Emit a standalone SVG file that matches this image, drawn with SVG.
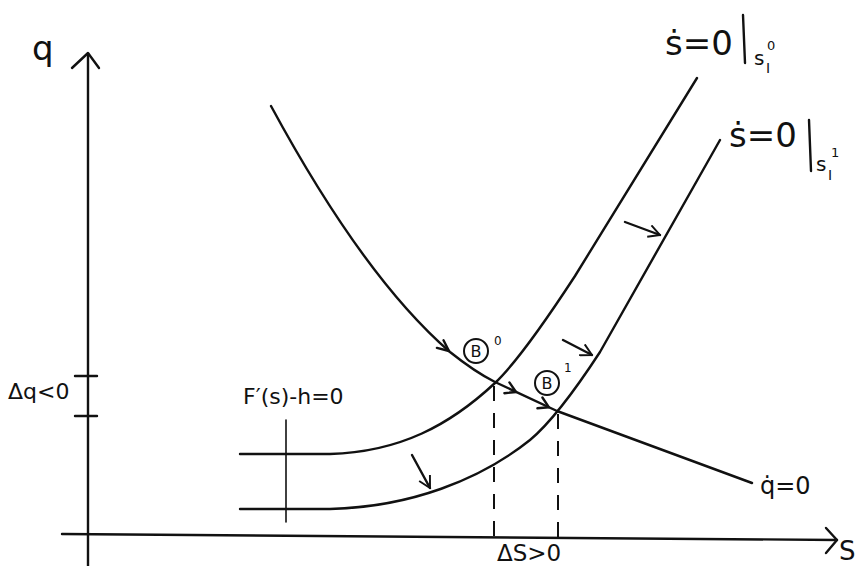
<svg xmlns="http://www.w3.org/2000/svg" width="861" height="566" viewBox="0 0 861 566">
<style>
.ln{fill:none;stroke:#111;stroke-width:2.4;stroke-linecap:round;stroke-linejoin:round}
.th{fill:none;stroke:#111;stroke-width:1.6;stroke-linecap:round}
.ci{fill:none;stroke:#111;stroke-width:2}
.ds{fill:none;stroke:#111;stroke-width:2;stroke-dasharray:15 12}
.t{font-family:"DejaVu Sans","Liberation Sans",sans-serif;fill:#111}
</style>
<defs>
<marker id="arr" viewBox="0 0 16 16" refX="15" refY="8" markerWidth="14" markerHeight="14" markerUnits="userSpaceOnUse" orient="auto">
<path d="M2,1 L15,8 L2,15" fill="none" stroke="#111" stroke-width="2.2"/>
</marker>
</defs>
<rect width="861" height="566" fill="#fff"/>
<g id="axes">
<path class="ln" d="M88,54 L88,566"/>
<path class="ln" d="M72,68 L88,53 L99,68"/>
<path class="ln" d="M62,534 L837,540"/>
<path class="ln" d="M826,528 L837,540 L826,553"/>
<path class="ln" d="M75,376 L97,376 M75,416 L97,416"/>
<text class="t" x="32" y="60" font-size="34">q</text>
<text class="t" x="839" y="560" font-size="26">S</text>
<text class="t" x="8" y="399" font-size="22">Δq&lt;0</text>
<text class="t" x="497" y="561" font-size="23">ΔS&gt;0</text>
</g>
<g id="fprime">
<path class="th" d="M286,420 L286,522"/>
<text class="t" x="243" y="404" font-size="22">F′(s)-h=0</text>
</g>
<g id="sdot0">
<path class="ln" d="M240,454 H330 C400,452 450,425 495,383 C515,364 545,322 575,276 L697,78"/>
<text class="t" x="665" y="55" font-size="34">ṡ=0</text>
<path class="ln" d="M743,15 L745,63"/>
<text class="t" x="754" y="65" font-size="20">s</text>
<text class="t" x="766" y="73" font-size="14">I</text>
<text class="t" x="767" y="50" font-size="13">0</text>
</g>
<g id="sdot1">
<path class="ln" d="M240,509 H330 C410,507 480,480 530,440 C548,425 570,398 600,352 L720,140"/>
<text class="t" x="729" y="147" font-size="34">ṡ=0</text>
<path class="ln" d="M809,120 L811,171"/>
<text class="t" x="816" y="171" font-size="20">s</text>
<text class="t" x="828" y="180" font-size="14">I</text>
<text class="t" x="831" y="157" font-size="13">1</text>
</g>
<g id="qdot">
<path class="ln" d="M271,106 C330,215 390,300 450,352 C470,368 485,377 495,382 L557,411 L752,483"/>
<text class="t" x="760" y="494" font-size="24">q̇=0</text>
</g>
<g id="B0">
<circle cx="476" cy="351" r="12" class="ci"/>
<text class="t" x="476" y="357" font-size="16" text-anchor="middle">B</text>
<text class="t" x="494" y="345" font-size="12">0</text>
</g>
<g id="B1">
<circle cx="547" cy="383" r="12" class="ci"/>
<text class="t" x="547" y="389" font-size="16" text-anchor="middle">B</text>
<text class="t" x="564" y="372" font-size="12">1</text>
</g>
<g id="connectors">
<path class="ds" d="M494,386 L494,548"/>
<path class="ds" d="M558,414 L558,548"/>
<path class="ln" d="M625,222 L660,235" marker-end="url(#arr)"/>
<path class="ln" d="M563,340 L592,355" marker-end="url(#arr)"/>
<path class="ln" d="M412,455 L430,488" marker-end="url(#arr)"/>
<path class="ln" d="M509.4,382.4 L516,392 L504.4,393.2"/>
<path class="ln" d="M542.4,397.5 L549,407.3 L537.4,408.3"/>
<path class="ln" d="M443.5,340.3 L449,351 L436.9,347.9"/>
</g>
</svg>
